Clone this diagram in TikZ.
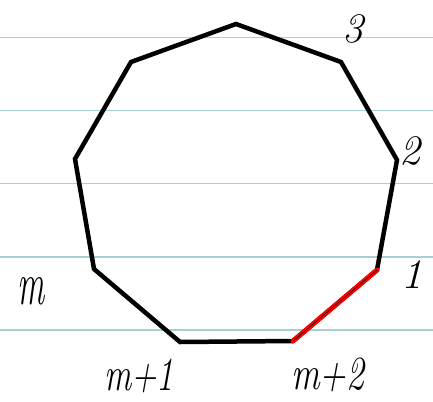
\documentclass[tikz,border=0pt]{standalone}
\usepackage{fix-cm}
\usepackage{graphicx}
\begin{document}
\begin{tikzpicture}[x=1pt,y=-1pt,
  ruleline/.style={draw={rgb,255:red,168;green,208;blue,208},line width=1.2pt},
  poly/.style={draw=black,line width=4.5pt,line join=miter},
  hl/.style={draw=red,line width=5pt,line cap=round},
  lbl/.style={font=\fontsize{34}{34}\selectfont\itshape,inner sep=0pt},
  dig/.style={font=\fontsize{42}{42}\selectfont\itshape,inner sep=0pt}]
\useasboundingbox (0,0) rectangle (433,401);
\foreach \yy in {37.5,110.5,183.5,257,330} \draw[ruleline] (0,\yy) -- (433,\yy);
\coordinate (v1) at (377,270);
\coordinate (v2) at (397,160);
\coordinate (v3) at (341,62);
\coordinate (v4) at (236,24);
\coordinate (v5) at (131,62);
\coordinate (v6) at (75,159);
\coordinate (v7) at (94,269);
\coordinate (v8) at (180,342);
\coordinate (v9) at (293,341);
\draw[poly] (v1) -- (v2) -- (v3) -- (v4) -- (v5) -- (v6) -- (v7) -- (v8) -- (v9) -- cycle;
\draw[hl] (v9) -- (v1);
\draw[black,line width=0.5pt] (v9) -- (v1);
\node[dig] (l3) at (353,29) {3};
\node[dig] (l2) at (410,151) {2};
\node[dig] (l1) at (412,275) {1};
\node[lbl] (lm) at (31,291) {\scalebox{1}[1.8]{m}};
\node[lbl] (lm1) at (139,376) {\scalebox{1}[1.4]{m+1}};
\node[lbl] (lm2) at (328,375) {\scalebox{1.05}[1.4]{m+2}};
\end{tikzpicture}
\end{document}
